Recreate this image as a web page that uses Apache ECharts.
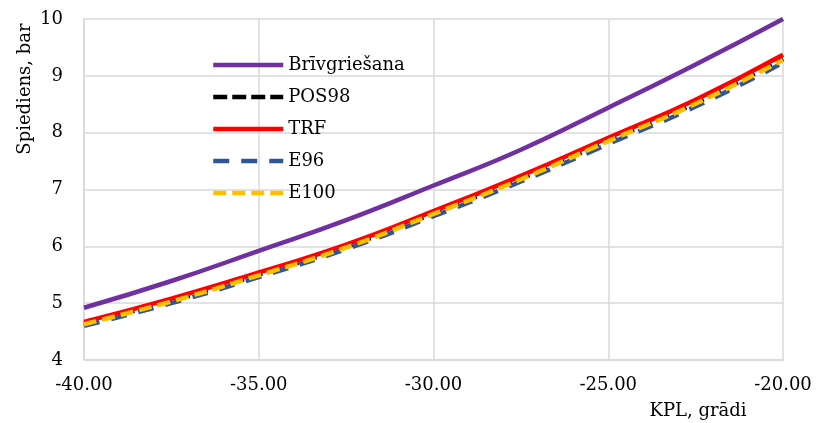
<!DOCTYPE html>
<html>
<head>
<meta charset="utf-8">
<script src="https://cdn.jsdelivr.net/npm/echarts@6/dist/echarts.min.js"></script>
<style>
  html, body { margin: 0; padding: 0; background: #fff; }
  #chart { width: 816px; height: 423px; }
</style>
</head>
<body>
<div id="chart"></div>
<script>
  // KPL temperature, degrees
  const kpl = [-40, -37.5, -35, -32.5, -30, -27.5, -25, -22.5, -20];

  // pressure, bar
  const brivgriesana = [4.92, 5.39, 5.92, 6.46, 7.07, 7.70, 8.44, 9.20, 10.0];
  const pos98 = [4.64, 5.04, 5.50, 5.99, 6.58, 7.19, 7.86, 8.52, 9.30];
  const trf = [4.67, 5.08, 5.54, 6.03, 6.62, 7.24, 7.91, 8.58, 9.37];
  const e96 = [4.60, 5.00, 5.46, 5.95, 6.53, 7.14, 7.80, 8.46, 9.23];
  const e100 = [4.63, 5.03, 5.49, 5.98, 6.57, 7.18, 7.85, 8.51, 9.28];

  const seriesNames = ['Brīvgriešana', 'POS98', 'TRF', 'E96', 'E100'];
  const xTicks = [-40, -35, -30, -25, -20];
  const yTicks = [4, 5, 6, 7, 8, 9, 10];

  const font = 'DejaVu Serif';
  const gridColor = '#d9d9d9';

  const pairs = arr => kpl.map((x, i) => [x, arr[i]]);

  const mkLine = (name, data, color, type) => ({
    name: name,
    type: 'line',
    data: pairs(data),
    smooth: true,
    symbol: 'none',
    clip: true,
    lineStyle: { color: color, width: 4.5, type: type, cap: 'butt' },
    itemStyle: { color: color },
  });

  const chart = echarts.init(document.getElementById('chart'));

  chart.setOption({
    animation: false,
    backgroundColor: '#fff',
    textStyle: { fontFamily: font },
    grid: { left: 84, right: 33, top: 19, bottom: 63 },
    legend: {
      data: seriesNames,
      orient: 'vertical',
      left: 206,
      top: 50,
      itemWidth: 70,
      itemHeight: 14,
      itemGap: 12,
      itemStyle: { opacity: 0 },
      lineStyle: { width: 4.5 },
      textStyle: { fontFamily: font, fontSize: 18, color: '#000', lineHeight: 20 },
    },
    xAxis: {
      type: 'value',
      min: xTicks[0],
      max: xTicks[xTicks.length - 1],
      interval: 5,
      axisLine: { show: true, lineStyle: { color: gridColor, width: 1.5 } },
      axisTick: { show: false },
      axisLabel: {
        fontFamily: font, fontSize: 18, color: '#000', margin: 16,
        formatter: v => v.toFixed(2),
      },
      splitLine: { show: true, lineStyle: { color: gridColor, width: 1.5 } },
    },
    yAxis: {
      type: 'value',
      min: yTicks[0],
      max: yTicks[yTicks.length - 1],
      interval: 1,
      axisLine: { show: true, lineStyle: { color: gridColor, width: 1.5 } },
      axisTick: { show: false },
      axisLabel: { fontFamily: font, fontSize: 18, color: '#000', margin: 21 },
      splitLine: { show: true, lineStyle: { color: gridColor, width: 1.5 } },
    },
    graphic: [
      {
        type: 'text',
        x: 25, y: 89,
        rotation: Math.PI / 2,
        style: {
          text: 'Spiediens, bar',
          fontFamily: font, fontSize: 18, fill: '#000',
          align: 'center', verticalAlign: 'middle',
        },
      },
      {
        type: 'text',
        x: 698, y: 411,
        style: {
          text: 'KPL, grādi',
          fontFamily: font, fontSize: 18, fill: '#000',
          align: 'center', verticalAlign: 'middle',
        },
      },
    ],
    series: [
      mkLine('Brīvgriešana', brivgriesana, '#7030a0', 'solid'),
      mkLine('POS98', pos98, '#000000', [14, 5]),
      mkLine('TRF', trf, '#ff0000', 'solid'),
      mkLine('E96', e96, '#2f5597', [16, 12]),
      mkLine('E100', e100, '#ffc000', [13, 6]),
    ],
  });
</script>
</body>
</html>
